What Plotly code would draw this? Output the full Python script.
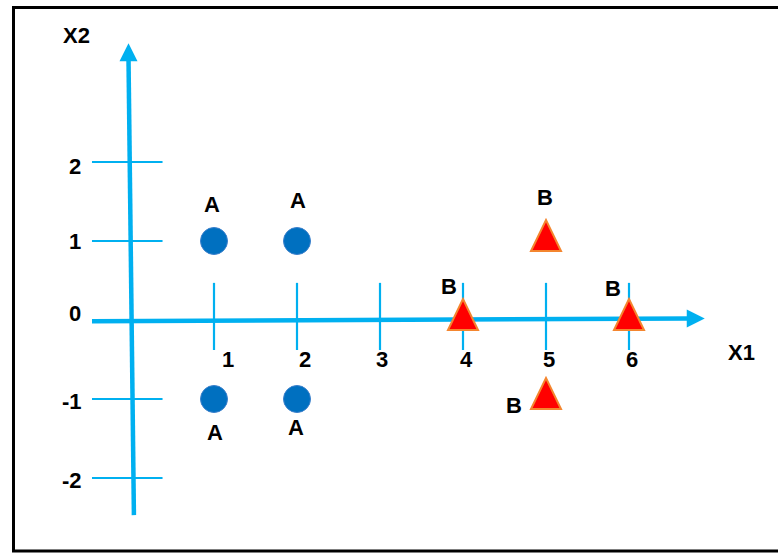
import plotly.graph_objects as go

# ---- data ----
class_a_x = [1, 2, 1, 2]
class_a_y = [1, 1, -1, -1]
class_a_label = ["A", "A", "A", "A"]
class_b_x = [4, 5, 6, 5]
class_b_y = [0, 1, 0, -1]
class_b_label = ["B", "B", "B", "B"]
x_ticks = [1, 2, 3, 4, 5, 6]
x_tick_labels = ["1", "2", "3", "4", "5", "6"]
y_ticks = [2, 1, 0, -1, -2]
y_tick_labels = ["2", "1", "0", "-1", "-2"]
x_axis_title = "X1"
y_axis_title = "X2"

# ---- style ----
W, H = 778, 553
AX = "#00B0F0"
FONT = dict(family="Liberation Sans, Arial, sans-serif", size=22, color="black")
px_per_x, px_per_y = 83.0, 79.0
origin_px = (131.0, 320.0)
x_range = [-origin_px[0] / px_per_x, (W - origin_px[0]) / px_per_x]
y_range = [(origin_px[1] - H) / px_per_y, origin_px[1] / px_per_y]

# axis extents (data units)
x_axis_ext = (-0.47, 6.72)
y_axis_ext = (-2.47, 3.30)

fig = go.Figure()
shapes = []
annotations = []

# frame
shapes.append(dict(type="rect", xref="paper", yref="paper",
                   x0=13.5 / W, x1=1.05, y0=1 - 551 / H, y1=1 - 7.5 / H,
                   line=dict(color="black", width=3), fillcolor="rgba(0,0,0,0)"))

# tick marks
for t in x_ticks:
    shapes.append(dict(type="line", xref="x", yref="y", x0=t, x1=t, y0=-0.38, y1=0.47,
                       line=dict(color=AX, width=2.2), layer="below"))
for t in y_ticks:
    shapes.append(dict(type="line", xref="x", yref="y", x0=-0.47, x1=0.38, y0=t, y1=t,
                       line=dict(color=AX, width=2.2), layer="below"))

# axes lines (slightly hand-drawn slant)
shapes.append(dict(type="line", xref="x", yref="y", x0=x_axis_ext[0], x1=x_axis_ext[1],
                   y0=-0.015, y1=0.02, line=dict(color=AX, width=4.5), layer="below"))
shapes.append(dict(type="line", xref="x", yref="y", x0=0.035, x1=-0.03,
                   y0=y_axis_ext[0], y1=y_axis_ext[1], line=dict(color=AX, width=4.5), layer="below"))
# arrow heads (pixel-sized, anchored at axis ends)
shapes.append(dict(type="path", xref="x", yref="y", xsizemode="pixel", ysizemode="pixel",
                   xanchor=x_axis_ext[1], yanchor=0.02,
                   path="M -2,9 L 16,0 L -2,-9 Z", fillcolor=AX, line=dict(width=0)))
shapes.append(dict(type="path", xref="x", yref="y", xsizemode="pixel", ysizemode="pixel",
                   xanchor=-0.03, yanchor=y_axis_ext[1],
                   path="M -9,-2 L 0,16 L 9,-2 Z", fillcolor=AX, line=dict(width=0)))

# class B triangles
for x, y in zip(class_b_x, class_b_y):
    shapes.append(dict(type="path", xref="x", yref="y", xsizemode="pixel", ysizemode="pixel",
                       xanchor=x, yanchor=y,
                       path="M -15,-10 L 15,-10 L 0,21 Z", fillcolor="#FF0000",
                       line=dict(color="#F4862F", width=2)))

# class A circles
fig.add_trace(go.Scatter(x=class_a_x, y=class_a_y, mode="markers",
                         marker=dict(symbol="circle", size=27, color="#0070C0",
                                     line=dict(color="#3A7FCB", width=1)),
                         hoverinfo="skip", showlegend=False))
fig.add_trace(go.Scatter(x=class_b_x, y=class_b_y, mode="markers",
                         marker=dict(size=1, color="rgba(0,0,0,0)"),
                         hoverinfo="skip", showlegend=False))

# point labels
a_offsets = [(-2, 37), (1, 41), (1, -33), (-1, -28)]
b_offsets = [(-14, 34), (-1, 44), (-16, 32), (-32, -6)]
for x, y, lab, (dx, dy) in zip(class_a_x, class_a_y, class_a_label, a_offsets):
    annotations.append(dict(x=x, y=y, text="<b>%s</b>" % lab, showarrow=False,
                            xshift=dx, yshift=dy, font=FONT))
for x, y, lab, (dx, dy) in zip(class_b_x, class_b_y, class_b_label, b_offsets):
    annotations.append(dict(x=x, y=y, text="<b>%s</b>" % lab, showarrow=False,
                            xshift=dx, yshift=dy, font=FONT))

# tick labels
x_lab_dx = [14, 8, 2, 3, 3, 3]
for t, lab, dx in zip(x_ticks, x_tick_labels, x_lab_dx):
    annotations.append(dict(x=t, y=0, text="<b>%s</b>" % lab, showarrow=False,
                            xshift=dx, yshift=-39, font=FONT))
y_lab_shift = [(-56, -4), (-56, 0), (-56, 7), (-59, -2), (-59, -2)]
for t, lab, (dx, dy) in zip(y_ticks, y_tick_labels, y_lab_shift):
    annotations.append(dict(x=0, y=t, text="<b>%s</b>" % lab, showarrow=False,
                            xshift=dx, yshift=dy, font=FONT))

# axis titles
annotations.append(dict(x=x_axis_ext[1], y=0, text="<b>%s</b>" % x_axis_title, showarrow=False,
                        xshift=53, yshift=-32, font=FONT))
annotations.append(dict(x=0, y=y_axis_ext[1], text="<b>%s</b>" % y_axis_title, showarrow=False,
                        xshift=-55, yshift=24, font=FONT))

fig.update_layout(
    width=W, height=H, margin=dict(l=0, r=0, t=0, b=0),
    paper_bgcolor="white", plot_bgcolor="white",
    xaxis=dict(range=x_range, visible=False, fixedrange=True),
    yaxis=dict(range=y_range, visible=False, fixedrange=True),
    shapes=shapes, annotations=annotations, showlegend=False,
)
fig.write_html("out.html", config={"displayModeBar": False},
               post_script="document.body.style.margin='0';document.body.style.overflow='hidden';")
